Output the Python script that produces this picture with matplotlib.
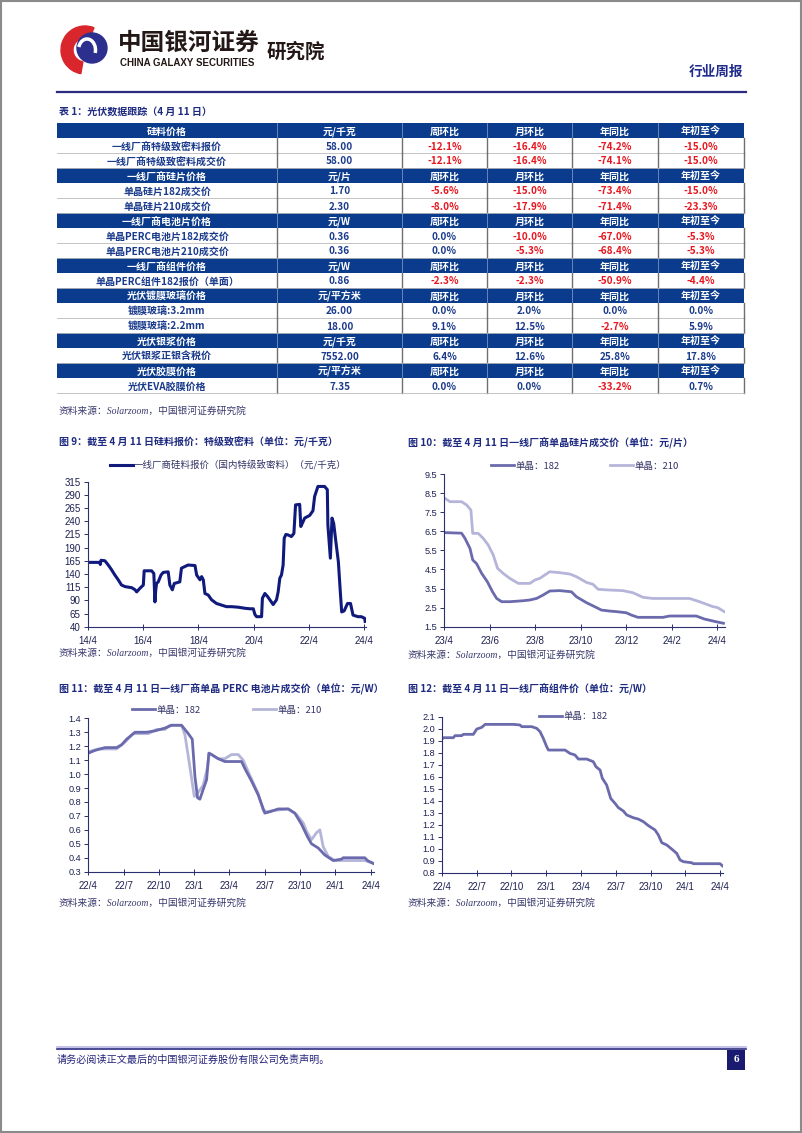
"""
Page 6 of the China Galaxy Securities PV weekly: price table plus four price charts.
"""

import matplotlib
import matplotlib.pyplot as plt
from matplotlib.patches import Rectangle, Wedge, Circle, Arc
from matplotlib.ticker import FormatStrFormatter

matplotlib.use("Agg")

W, H = 802, 1133
plt.rcParams["font.family"] = ["Noto Sans CJK SC", "DejaVu Sans"]

NAVY = "#1d2a80"
HEAD_BG = "#0b3b8c"
CELL_TXT = "#1a3a8c"
RED = "#e8161e"
AXIS = "#2a2f6e"
TICK_TXT = "#1c2050"
C182 = "#6a6aad"
C210 = "#b5b5da"
SI_COLOR = "#0f1a7c"

# ---- table 1 -------------------------------------------------------------
TABLE_TITLE = "表 1：光伏数据跟踪（4 月 11 日）"
STAT_HEADS = ["周环比", "月环比", "年同比", "年初至今"]
SECTION_NAMES = ["硅料价格", "一线厂商硅片价格", "一线厂商电池片价格", "一线厂商组件价格",
                 "光伏镀膜玻璃价格", "光伏银浆价格", "光伏胶膜价格"]
SECTION_UNITS = ["元/千克", "元/片", "元/W", "元/W", "元/平方米", "元/千克", "元/平方米"]
SECTION_ROWS = [
    [["一线厂商特级致密料报价", "58.00", "-12.1%", "-16.4%", "-74.2%", "-15.0%"],
     ["一线厂商特级致密料成交价", "58.00", "-12.1%", "-16.4%", "-74.1%", "-15.0%"]],
    [["单晶硅片182成交价", "1.70", "-5.6%", "-15.0%", "-73.4%", "-15.0%"],
     ["单晶硅片210成交价", "2.30", "-8.0%", "-17.9%", "-71.4%", "-23.3%"]],
    [["单晶PERC电池片182成交价", "0.36", "0.0%", "-10.0%", "-67.0%", "-5.3%"],
     ["单晶PERC电池片210成交价", "0.36", "0.0%", "-5.3%", "-68.4%", "-5.3%"]],
    [["单晶PERC组件182报价（单面）", "0.86", "-2.3%", "-2.3%", "-50.9%", "-4.4%"]],
    [["镀膜玻璃:3.2mm", "26.00", "0.0%", "2.0%", "0.0%", "0.0%"],
     ["镀膜玻璃:2.2mm", "18.00", "9.1%", "12.5%", "-2.7%", "5.9%"]],
    [["光伏银浆正银含税价", "7552.00", "6.4%", "12.6%", "25.8%", "17.8%"]],
    [["光伏EVA胶膜价格", "7.35", "0.0%", "0.0%", "-33.2%", "0.7%"]],
]
SOURCE = "资料来源：Solarzoom，中国银河证券研究院"

# ---- figure 9: polysilicon quote (decimal year, yuan/kg) ------------------
SI_TITLE = "图 9：截至 4 月 11 日硅料报价：特级致密料（单位：元/千克）"
SI_LABEL = "一线厂商硅料报价（国内特级致密料）（元/千克）"
SI_YEAR = [2014.27, 2014.69, 2014.70, 2014.73, 2014.87, 2014.99, 2015.11, 2015.23, 2015.35, 2015.47,
           2015.60, 2015.84, 2015.96, 2016.02, 2016.14, 2016.26, 2016.29, 2016.56, 2016.64, 2016.68,
           2016.71, 2016.74, 2016.80, 2016.90, 2016.98, 2017.16, 2017.22, 2017.31, 2017.38, 2017.58,
           2017.64, 2017.76, 2017.88, 2018.13, 2018.19, 2018.31, 2018.37, 2018.43, 2018.49, 2018.61,
           2018.73, 2018.91, 2019.09, 2019.27, 2019.45, 2019.69, 2019.93, 2020.11, 2020.24, 2020.30,
           2020.36, 2020.54, 2020.57, 2020.66, 2020.76, 2020.84, 2020.96, 2021.08, 2021.14, 2021.20,
           2021.26, 2021.32, 2021.36, 2021.42, 2021.50, 2021.62, 2021.71, 2021.77, 2021.92, 2021.96,
           2022.04, 2022.10, 2022.28, 2022.40, 2022.46, 2022.58, 2022.82, 2022.92, 2022.94, 2023.03,
           2023.09, 2023.15, 2023.23, 2023.32, 2023.39, 2023.44, 2023.53, 2023.65, 2023.76, 2023.85,
           2024.03, 2024.15, 2024.27, 2024.29]
SI_PRICE = [162, 162, 158, 166, 165, 157, 148, 138, 129, 119,
            116, 114, 110, 106, 113, 119, 146, 146, 141, 87,
            110, 122, 125, 138, 143, 144, 119, 110, 122, 125,
            151, 154, 157, 156, 138, 129, 135, 129, 103, 100,
            91, 84, 81, 78, 78, 77, 75, 74, 74, 63,
            59, 59, 94, 103, 97, 91, 82, 91, 106, 132,
            138, 157, 208, 215, 214, 211, 217, 271, 272, 230,
            239, 246, 251, 260, 287, 306, 306, 300, 233, 170,
            246, 236, 201, 163, 106, 68, 70, 84, 84, 62,
            59, 59, 56, 50]
SI_XTICKS = [2014.25, 2016.25, 2018.25, 2020.25, 2022.25, 2024.25]
SI_XLABELS = ["14/4", "16/4", "18/4", "20/4", "22/4", "24/4"]
SI_YTICKS = list(range(40, 316, 25))

# ---- figure 10: wafer price (months since 2023-04, yuan/piece) -----------
WAFER_TITLE = "图 10：截至 4 月 11 日一线厂商单晶硅片成交价（单位：元/片）"
WAFER_182_M = [0, 0.77, 0.92, 1.14, 1.26, 1.43, 1.65, 1.90, 2.13, 2.31,
               2.53, 2.89, 3.47, 3.77, 4.06, 4.35, 4.64, 5.08, 5.59, 5.81,
               6.25, 6.61, 6.91, 7.27, 7.56, 8.00, 8.22, 8.51, 9.61, 9.90,
               11.07, 11.43, 11.94, 12.26]
WAFER_182_V = [6.43, 6.40, 6.13, 5.60, 5.00, 4.80, 4.30, 3.86, 3.33, 2.98,
               2.81, 2.81, 2.86, 2.90, 2.98, 3.16, 3.37, 3.39, 3.33, 3.07,
               2.76, 2.55, 2.37, 2.32, 2.29, 2.23, 2.11, 1.99, 1.99, 2.06,
               2.06, 1.90, 1.76, 1.68]
WAFER_210_M = [0, 0.26, 0.77, 0.99, 1.18, 1.26, 1.50, 1.72, 1.94, 2.16,
               2.35, 2.60, 2.89, 3.26, 3.77, 3.99, 4.20, 4.64, 5.08, 5.52,
               5.81, 6.25, 6.54, 6.76, 7.27, 7.85, 8.29, 8.73, 9.17, 10.77,
               11.21, 11.80, 12.01, 12.31]
WAFER_210_V = [8.26, 8.05, 8.05, 7.88, 7.61, 6.39, 6.39, 6.13, 5.78, 5.26,
               4.56, 4.29, 4.03, 3.77, 3.77, 3.95, 4.03, 4.38, 4.33, 4.26,
               4.12, 3.82, 3.72, 3.46, 3.42, 3.39, 3.28, 3.04, 2.98, 2.98,
               2.81, 2.55, 2.50, 2.28]
WAFER_XLABELS = ["23/4", "23/6", "23/8", "23/10", "23/12", "24/2", "24/4"]
WAFER_YTICKS = [1.5, 2.5, 3.5, 4.5, 5.5, 6.5, 7.5, 8.5, 9.5]

# ---- figure 11: PERC cell price (months since 2022-04, yuan/W) -----------
CELL_TITLE = "图 11：截至 4 月 11 日一线厂商单晶 PERC 电池片成交价（单位：元/W）"
CELL_182_M = [0, 0.57, 1.42, 2.41, 2.83, 3.26, 3.97, 4.96, 5.67, 6.52,
              7.08, 7.93, 8.50, 8.84, 9.07, 9.29, 9.49, 9.77, 10.06, 10.25,
              10.48, 11.05, 11.61, 13.03, 13.31, 13.88, 14.45, 15.01, 15.44, 16.15,
              17.00, 17.56, 18.13, 18.64, 18.98, 19.55, 20.11, 20.82, 21.53, 21.67,
              23.51, 23.74, 24.22]
CELL_182_V = [1.15, 1.17, 1.19, 1.19, 1.21, 1.25, 1.30, 1.30, 1.31, 1.33,
              1.35, 1.35, 1.29, 1.25, 0.98, 0.83, 0.82, 0.89, 0.96, 1.15,
              1.14, 1.11, 1.09, 1.09, 1.04, 0.95, 0.85, 0.72, 0.73, 0.75,
              0.75, 0.72, 0.64, 0.55, 0.50, 0.47, 0.42, 0.38, 0.39, 0.40,
              0.40, 0.38, 0.36]
CELL_210_M = [0, 0.85, 2.41, 2.69, 3.12, 3.82, 5.10, 5.81, 6.52, 6.94,
              7.93, 8.22, 8.64, 9.01, 9.35, 9.77, 10.14, 10.28, 11.05, 11.61,
              12.18, 12.75, 13.17, 13.74, 14.45, 14.87, 15.16, 15.86, 17.00, 17.71,
              18.27, 18.56, 18.98, 19.41, 19.69, 19.97, 20.40, 20.96, 23.51, 24.22]
CELL_210_V = [1.16, 1.18, 1.18, 1.20, 1.23, 1.29, 1.29, 1.32, 1.32, 1.35,
              1.35, 1.28, 1.05, 0.84, 0.87, 0.92, 1.05, 1.15, 1.11, 1.11,
              1.14, 1.14, 1.10, 0.99, 0.86, 0.74, 0.73, 0.74, 0.75, 0.71,
              0.65, 0.59, 0.53, 0.58, 0.60, 0.48, 0.41, 0.38, 0.38, 0.36]
QUARTER_XLABELS = ["22/4", "22/7", "22/10", "23/1", "23/4", "23/7", "23/10", "24/1", "24/4"]
CELL_YTICKS = [0.3, 0.4, 0.5, 0.6, 0.7, 0.8, 0.9, 1.0, 1.1, 1.2, 1.3, 1.4]

# ---- figure 12: module price (months since 2022-04, yuan/W) --------------
MOD_TITLE = "图 12：截至 4 月 11 日一线厂商组件价（单位：元/W）"
MOD_M = [0, 0.14, 1.00, 1.15, 1.72, 1.87, 2.73, 3.02, 3.45, 3.74,
         6.18, 6.75, 6.90, 7.76, 8.19, 8.48, 8.76, 9.05, 9.20, 10.63,
         11.06, 11.49, 11.78, 12.50, 13.07, 13.30, 13.65, 13.85, 14.22, 14.57,
         14.94, 15.23, 15.66, 15.95, 16.52, 16.95, 17.39, 17.82, 18.39, 18.68,
         18.97, 19.40, 19.83, 20.26, 20.55, 20.83, 21.55, 21.70, 23.99, 24.22]
MOD_V = [1.91, 1.925, 1.925, 1.942, 1.942, 1.953, 1.953, 1.997, 2.011, 2.036,
         2.036, 2.031, 2.017, 2.017, 2.003, 1.975, 1.919, 1.85, 1.822, 1.822,
         1.794, 1.781, 1.747, 1.747, 1.725, 1.683, 1.656, 1.586, 1.531, 1.419,
         1.378, 1.342, 1.314, 1.281, 1.258, 1.247, 1.225, 1.192, 1.156, 1.114,
         1.05, 1.031, 0.997, 0.961, 0.906, 0.892, 0.883, 0.875, 0.875, 0.856]
MOD_YTICKS = [0.8, 0.9, 1.0, 1.1, 1.2, 1.3, 1.4, 1.5, 1.6, 1.7, 1.8, 1.9, 2.0, 2.1]

SERIES_182 = "单晶：182"
SERIES_210 = "单晶：210"
FOOTER = "请务必阅读正文最后的中国银河证券股份有限公司免责声明。"
PAGE_NO = "6"


def px_axes(fig, left, top, right, bottom):
    return fig.add_axes([left / W, 1 - bottom / H, (right - left) / W, (bottom - top) / H])


def style_chart(ax, yticks, xticks, xlabels, yfmt, ysize=6.6):
    for side in ("top", "right"):
        ax.spines[side].set_visible(False)
    for side in ("left", "bottom"):
        ax.spines[side].set_color(AXIS)
        ax.spines[side].set_linewidth(0.8)
    ax.set_yticks(yticks)
    ax.yaxis.set_major_formatter(FormatStrFormatter(yfmt))
    ax.set_xticks(xticks)
    ax.set_xticklabels(xlabels)
    ax.tick_params(axis="y", direction="out", length=3, width=0.7, color=AXIS,
                   labelsize=ysize, labelcolor=TICK_TXT, pad=2, labelfontfamily="Liberation Sans")
    ax.tick_params(axis="x", direction="inout", length=4, width=0.7, color=AXIS,
                   labelsize=7.0, labelcolor=TICK_TXT, pad=5, labelfontfamily="Liberation Sans")
    ax.patch.set_alpha(0)


def fig_legend(ax, fig, x, y, spacing, handles=None, labels=None):
    if handles is None:
        handles, labels = ax.get_legend_handles_labels()
    ax.legend(handles, labels, loc="center left", bbox_to_anchor=(x / W, 1 - y / H),
              bbox_transform=fig.transFigure, ncol=2, frameon=False, fontsize=6.8,
              handlelength=2.4, handletextpad=0.15, columnspacing=spacing, borderpad=0,
              borderaxespad=0, labelcolor="#333366")


def draw_page(page):
    page.set_xlim(0, W)
    page.set_ylim(H, 0)
    page.axis("off")
    page.add_patch(Rectangle((1, 1), W - 2, H - 2, fill=False, ec="#8a8a8a", lw=1.5))

    # logo
    page.add_patch(Wedge((85, 50), 24, 100, 292, width=12, color="#d9262c"))
    page.add_patch(Circle((92, 48), 15, color="#2d2f8e"))
    page.add_patch(Arc((87, 50), 17, 22, theta1=200, theta2=380, color="white", lw=2.5))
    page.text(118, 43, "中国银河证券", fontsize=17, fontweight="bold", color="#231815", va="center")
    page.text(120, 63.5, "CHINA GALAXY SECURITIES", fontsize=7.0, fontweight="bold",
              color="#231815", va="center", family="Liberation Sans")
    page.text(267, 52, "研究院", fontsize=14, fontweight="bold", color="#231815", va="center")
    page.text(743, 72, "行业周报", fontsize=9.8, fontweight="bold", color="#1f2a8c",
              ha="right", va="center")
    page.plot([57, 746], [92, 92], color="#2b2b80", lw=1.6)

    # table
    col_edges = [57, 277, 402, 487, 572, 658, 744]
    top, row_h = 123, 15.0
    page.text(59, 112, TABLE_TITLE, fontsize=7.2, fontweight="bold", color=NAVY, va="center")
    rows = []
    for name, unit, data in zip(SECTION_NAMES, SECTION_UNITS, SECTION_ROWS):
        rows.append((True, [name, unit] + STAT_HEADS))
        rows.extend((False, r) for r in data)
    for i, (is_head, cells) in enumerate(rows):
        y0 = top + i * row_h
        if is_head:
            page.add_patch(Rectangle((col_edges[0], y0), col_edges[-1] - col_edges[0], row_h,
                                     fc=HEAD_BG, ec="none"))
            for x in col_edges[1:-1]:
                page.plot([x, x], [y0, y0 + row_h], color="#8ea3cc", lw=0.5)
        else:
            for x in col_edges[1:]:
                page.plot([x, x], [y0, y0 + row_h], color="#6f6f6f", lw=1.0)
            page.plot([col_edges[0], col_edges[-1]], [y0 + row_h, y0 + row_h], color="#b9b9b9", lw=0.6)
        for j, txt in enumerate(cells):
            cx = (col_edges[j] + col_edges[j + 1]) / 2
            if is_head:
                color = "white"
            else:
                color = RED if txt.startswith("-") else CELL_TXT
            page.text(cx, y0 + row_h / 2 + 4.0, txt, ha="center", va="baseline", fontsize=7.2,
                      fontweight="bold", color=color)
    src_kw = dict(fontsize=7, style="italic", color="#3a3a6e", va="center",
                  family=["Liberation Serif", "Noto Sans CJK SC"])
    page.text(59, 411, SOURCE, **src_kw)

    # chart titles and sources
    title_kw = dict(fontsize=7.2, fontweight="bold", color=NAVY, va="center")
    page.text(59, 442, SI_TITLE, **title_kw)
    page.text(408, 442, WAFER_TITLE, **title_kw)
    page.text(59, 688, CELL_TITLE, **title_kw)
    page.text(408, 688, MOD_TITLE, **title_kw)
    page.text(59, 653, SOURCE, **src_kw)
    page.text(408, 655, SOURCE, **src_kw)
    page.text(59, 903, SOURCE, **src_kw)
    page.text(408, 903, SOURCE, **src_kw)

    # footer
    page.plot([57, 746], [1047, 1047], color="#b9b6e6", lw=1.2)
    page.plot([57, 746], [1048.5, 1048.5], color="#2b2b80", lw=1.2)
    page.text(57, 1060, FOOTER, fontsize=7.3, color="#25257a", va="center")
    page.add_patch(Rectangle((727, 1050), 18, 20, fc="#1a1a6e", ec="none"))
    page.text(736, 1060, PAGE_NO, fontsize=8, fontweight="bold", color="white",
              ha="center", va="center", family="Liberation Serif")


def main():
    fig = plt.figure(figsize=(W / 100, H / 100), dpi=100)
    page = fig.add_axes([0, 0, 1, 1])
    draw_page(page)

    # figure 9
    ax = px_axes(fig, 87.8, 481.7, 366, 626.7)
    ax.plot(SI_YEAR, SI_PRICE, color=SI_COLOR, lw=2.2, label=SI_LABEL)
    ax.set_xlim(2014.25, 2024.32)
    ax.set_ylim(40, 315)
    style_chart(ax, SI_YTICKS, SI_XTICKS, SI_XLABELS, "%d", ysize=7.0)
    fig_legend(ax, fig, 110, 465, 1.0)

    # figure 10
    ax = px_axes(fig, 444, 474, 725, 626.7)
    ax.plot(WAFER_182_M, WAFER_182_V, color=C182, lw=2.0, label=SERIES_182)
    ax.plot(WAFER_210_M, WAFER_210_V, color=C210, lw=2.0, label=SERIES_210)
    ax.set_xlim(0, 12.33)
    ax.set_ylim(1.5, 9.5)
    style_chart(ax, WAFER_YTICKS, [2 * i for i in range(len(WAFER_XLABELS))], WAFER_XLABELS, "%.1f")
    fig_legend(ax, fig, 491, 466, 5.4)

    # figure 11
    ax = px_axes(fig, 88.3, 718.3, 373.5, 871.7)
    ax.plot(CELL_210_M, CELL_210_V, color=C210, lw=2.0, label=SERIES_210)
    ax.plot(CELL_182_M, CELL_182_V, color=C182, lw=2.0, label=SERIES_182)
    ax.set_xlim(0, 24.25)
    ax.set_ylim(0.3, 1.4)
    style_chart(ax, CELL_YTICKS, [3 * i for i in range(len(QUARTER_XLABELS))], QUARTER_XLABELS, "%.1f")
    handles, labels = ax.get_legend_handles_labels()
    fig_legend(ax, fig, 132, 710, 5.6, handles[::-1], labels[::-1])

    # figure 12
    ax = px_axes(fig, 441.7, 716.7, 723, 872.7)
    ax.plot(MOD_M, MOD_V, color=C182, lw=2.0, label=SERIES_182)
    ax.set_xlim(0, 24.25)
    ax.set_ylim(0.8, 2.1)
    style_chart(ax, MOD_YTICKS, [3 * i for i in range(len(QUARTER_XLABELS))], QUARTER_XLABELS, "%.1f")
    fig_legend(ax, fig, 539, 717, 1.0)

    fig.savefig("out.png", dpi=100)
    plt.close(fig)


if __name__ == "__main__":
    main()
